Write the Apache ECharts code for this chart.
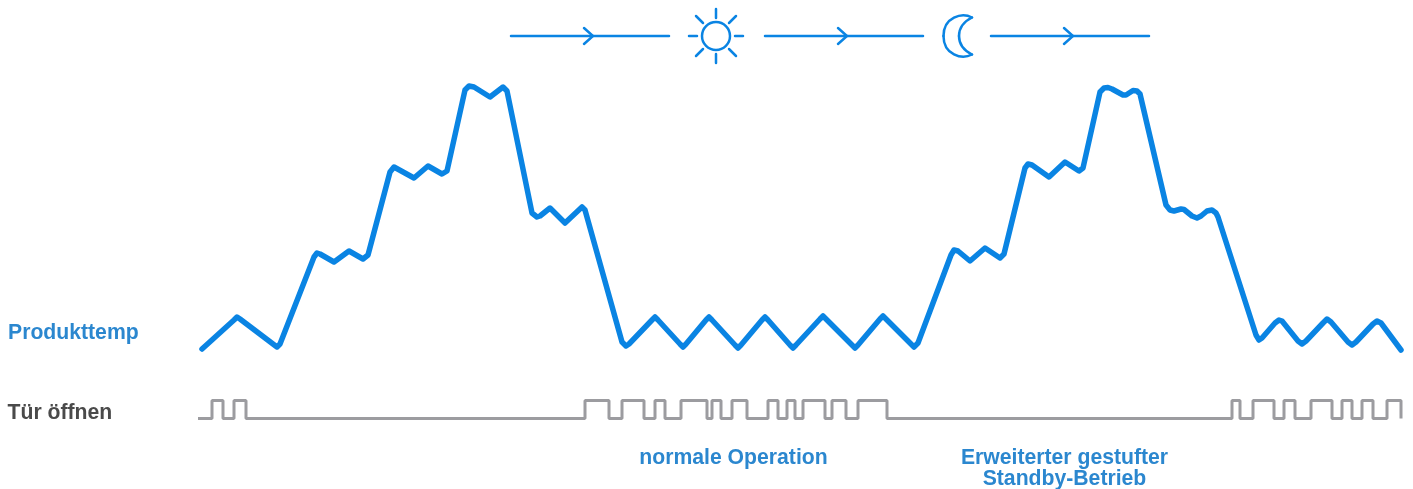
<!DOCTYPE html>
<html>
<head>
<meta charset="utf-8">
<style>
  html, body { margin: 0; padding: 0; background: #fff; }
  #chart { width: 1413px; height: 489px; }
</style>
<script src="https://cdn.jsdelivr.net/npm/echarts@6/dist/echarts.min.js"></script>
</head>
<body>
<div id="chart"></div>
<script>
// product temperature curve, x = time, y = height above the base line
let tempTime = [12, 44, 47, 50, 83, 87, 90, 124, 127, 130, 144, 159, 173, 178, 200, 204, 224, 238, 252, 257, 275, 279, 284, 300, 313, 317,
  342, 347, 350, 360, 375, 392, 395, 432, 436, 439,
  462, 465, 468, 490, 493, 496, 516, 519, 522, 545, 548, 551, 572, 575, 578, 600, 603, 606, 630, 633, 636, 662, 665, 668, 690, 693, 696, 721, 724, 728,
  761, 764, 768, 780, 795, 810, 814, 835, 838, 842, 859, 875, 889, 893,
  910, 914, 918, 922, 933, 936, 943, 947, 950,
  976, 980, 984, 991, 994, 1002, 1007, 1011, 1017, 1022, 1026, 1028,
  1066, 1069, 1072, 1085, 1089, 1092, 1108, 1112, 1116, 1133, 1137, 1141, 1158, 1162, 1166, 1183, 1187, 1191, 1211];
let tempValues = [1, 30, 33, 31, 6, 3, 6, 93, 97, 96, 88, 99, 91, 95, 178, 183, 172, 184, 176, 179, 260, 264, 263, 253, 263, 259,
  137, 133, 134, 142, 127, 143, 140, 8, 4, 6,
  30, 33, 30, 6, 3, 6, 30, 33, 30, 5, 2, 5, 30, 33, 30, 5, 2, 5, 31, 34, 31, 5, 2, 5, 31, 34, 31, 6, 3, 7,
  95, 100, 99, 89, 102, 92, 96, 182, 186, 185, 173, 188, 179, 182,
  258, 262, 262.5, 261, 255, 255, 259.5, 259, 256,
  145, 140, 139, 141, 140.5, 134, 132, 134, 139, 140, 137, 133,
  15, 10, 12, 27, 30, 29, 9, 6, 9, 27, 31, 28, 8, 5, 8, 26, 29, 27, 0];

// door open signal, time of each change and the state from there on
let doorTime = [8, 22, 33, 44, 56, 395, 419, 432, 454, 465, 475, 491, 517, 522, 531, 542, 557, 578, 588, 597, 605, 613, 635, 642, 656, 668, 697,
  1042, 1050, 1063, 1084, 1094, 1105, 1121, 1142, 1152, 1162, 1172, 1183, 1197, 1211];
let doorState = [0, 1, 0, 1, 0, 1, 0, 1, 0, 1, 0, 1, 0, 1, 0, 1, 0, 1, 0, 1, 0, 1, 0, 1, 0, 1, 0,
  1, 0, 1, 0, 1, 0, 1, 0, 1, 0, 1, 0, 1, 0];

var chartDom = document.getElementById('chart');
var chart = echarts.init(chartDom);

var blue = '#0a84e3';
var textFont = '"Liberation Sans", Arial, sans-serif';

function zip(a, b) {
  return a.map(function (v, i) { return [v, b[i]]; });
}

function arrow(x1, x2, chevronX) {
  return [
    { type: 'line', shape: { x1: x1, y1: 36, x2: x2, y2: 36 }, style: { stroke: blue, lineWidth: 2.5, lineCap: 'round' } },
    { type: 'polyline', shape: { points: [[chevronX, 28], [chevronX + 9, 36], [chevronX, 44]] }, style: { stroke: blue, fill: null, lineWidth: 2.5, lineCap: 'round' } }
  ];
}

function label(x, y, text, color, align) {
  return {
    type: 'text', x: x, y: y,
    style: { text: text, fill: color, font: 'bold 21.2px ' + textFont, align: align || 'left', verticalAlign: 'middle' }
  };
}

function curve(c) {
  return {
    type: 'bezierCurve',
    shape: { x1: c[0], y1: c[1], cpx1: c[2], cpy1: c[3], cpx2: c[4], cpy2: c[5], x2: c[6], y2: c[7] },
    style: { stroke: blue, fill: null, lineWidth: 2.5, lineCap: 'round' }
  };
}

// sun rays
var rays = [
  [716, 9, 716, 18], [716, 54, 716, 63], [689, 36, 697, 36], [735, 36, 743, 36],
  [696, 16, 703, 23], [736, 16, 729, 23], [696, 56, 703, 49], [736, 56, 729, 49]
].map(function (r) {
  return { type: 'line', shape: { x1: r[0], y1: r[1], x2: r[2], y2: r[3] }, style: { stroke: blue, lineWidth: 2.5, lineCap: 'round' } };
});

// moon outline, outer and inner edge
var moon = [
  [972, 17.5, 962, 12, 943.5, 17, 943.5, 36],
  [943.5, 36, 943.5, 55, 962, 60, 972, 54.5],
  [972, 54.5, 963, 50, 959, 43, 959, 36],
  [959, 36, 959, 29, 963, 22, 972, 17.5]
].map(curve);

var decorations = [].concat(
  arrow(511, 669, 584),
  arrow(765, 923, 838),
  arrow(991, 1149, 1064),
  rays,
  moon,
  [
    { type: 'circle', shape: { cx: 716, cy: 36, r: 14 }, style: { stroke: blue, fill: null, lineWidth: 2.5 } },
    label(8, 333, 'Produkttemp', '#2b87cf'),
    label(7.5, 413, 'Tür öffnen', '#4a4a4a'),
    label(733.5, 458, 'normale Operation', '#2b87cf', 'center'),
    label(1064.5, 458, 'Erweiterter gestufter', '#2b87cf', 'center'),
    label(1064.5, 479.5, 'Standby-Betrieb', '#2b87cf', 'center')
  ]
);

var option = {
  animation: false,
  backgroundColor: '#fff',
  grid: [
    { left: 190, width: 1220, top: 80, height: 270 },
    { left: 190, width: 1220, top: 400.5, height: 18 }
  ],
  xAxis: [
    { type: 'value', gridIndex: 0, min: 0, max: 1220, show: false },
    { type: 'value', gridIndex: 1, min: 0, max: 1220, show: false }
  ],
  yAxis: [
    { type: 'value', gridIndex: 0, min: 0, max: 270, show: false },
    { type: 'value', gridIndex: 1, min: 0, max: 1, show: false }
  ],
  series: [
    {
      name: 'Produkttemp',
      type: 'line',
      data: zip(tempTime, tempValues),
      showSymbol: false,
      clip: false,
      lineStyle: { color: blue, width: 5.5, cap: 'round', join: 'round' }
    },
    {
      name: 'Tür öffnen',
      type: 'line',
      xAxisIndex: 1,
      yAxisIndex: 1,
      data: zip(doorTime, doorState),
      step: 'end',
      showSymbol: false,
      clip: false,
      lineStyle: { color: '#9c9ca0', width: 3 }
    }
  ],
  graphic: decorations
};

chart.setOption(option);
</script>
</body>
</html>
